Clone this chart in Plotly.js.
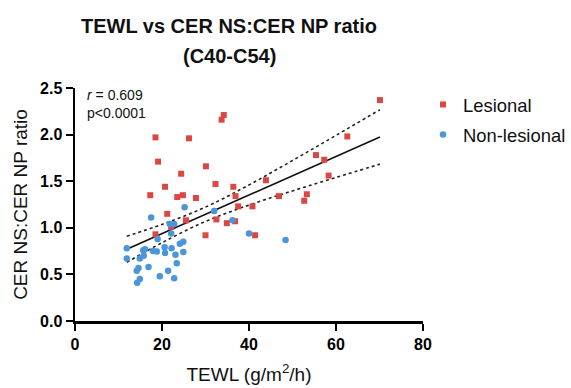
<!DOCTYPE html>
<html>
<head>
<meta charset="utf-8">
<script src="https://cdn.plot.ly/plotly-3.0.1.min.js"></script>
<style>html,body{margin:0;padding:0;background:#fff;}#chart{width:571px;height:388px;}</style>
</head>
<body>
<div id="chart"></div>
<script>
// Lesional (red squares)
const lesionalX = [70.1, 62.6, 34.2, 33.7, 18.5, 26.2, 19.1, 30.1, 24.4, 20.7, 32.3, 36.4, 17.3, 23.5, 24.8, 27.8, 36.9, 37.5, 55.4, 57.3, 43.9, 58.3, 46.9, 53.3, 52.7, 40.8, 41.4, 32.5, 34.9, 36.8, 30.0, 21.2, 25.5, 22.1, 18.5];
const lesionalY = [2.37, 1.98, 2.21, 2.16, 1.97, 1.96, 1.71, 1.66, 1.58, 1.44, 1.47, 1.44, 1.35, 1.33, 1.35, 1.32, 1.34, 1.23, 1.78, 1.73, 1.51, 1.56, 1.34, 1.36, 1.29, 1.23, 0.92, 1.09, 1.05, 1.07, 0.92, 1.15, 1.08, 1.01, 0.93];
// Non-lesional (blue circles)
const nonLesionalX = [25.2, 17.5, 32.0, 21.8, 22.8, 22.1, 36.2, 40.0, 48.4, 19.0, 24.9, 24.1, 11.9, 16.1, 15.7, 17.9, 18.8, 20.6, 22.2, 20.7, 24.9, 23.1, 11.9, 14.9, 15.8, 23.4, 14.6, 14.2, 16.9, 21.4, 19.5, 22.8, 14.9, 14.3];
const nonLesionalY = [1.22, 1.11, 1.18, 1.04, 1.04, 0.94, 1.08, 0.94, 0.87, 0.88, 0.85, 0.83, 0.78, 0.77, 0.76, 0.75, 0.745, 0.79, 0.78, 0.73, 0.74, 0.71, 0.67, 0.67, 0.70, 0.62, 0.57, 0.54, 0.58, 0.54, 0.48, 0.46, 0.45, 0.41];
// Regression line and 95% confidence band
const fitX = [11.9, 70.1];
const fitY = [0.77, 1.975];
const bandX = [11.9, 20, 30, 40, 50, 60, 70.1];
const bandUpper = [0.91, 1.036, 1.222, 1.46, 1.722, 1.992, 2.267];
const bandLower = [0.63, 0.84, 1.068, 1.244, 1.396, 1.54, 1.683];
const xTicks = [0, 20, 40, 60, 80];
const yTicks = [0.0, 0.5, 1.0, 1.5, 2.0, 2.5];
const yTickText = ['0.0', '0.5', '1.0', '1.5', '2.0', '2.5'];

const FONT = 'Liberation Sans, Arial, Helvetica, sans-serif';

const traces = [
  {x: bandX, y: bandUpper, mode: 'lines', line: {color: '#222', width: 1.6, dash: 'dot', shape: 'spline'}, showlegend: false, hoverinfo: 'skip'},
  {x: bandX, y: bandLower, mode: 'lines', line: {color: '#222', width: 1.6, dash: 'dot', shape: 'spline'}, showlegend: false, hoverinfo: 'skip'},
  {x: fitX, y: fitY, mode: 'lines', line: {color: '#111', width: 1.6}, showlegend: false, hoverinfo: 'skip'},
  {x: lesionalX, y: lesionalY, mode: 'markers', name: 'Lesional', legendgroup: 'a',
   marker: {symbol: 'square', size: 6, color: '#dc4744'}},
  {x: nonLesionalX, y: nonLesionalY, mode: 'markers', name: 'Non-lesional', legendgroup: 'b',
   marker: {symbol: 'circle', size: 6.5, color: '#4a95db'}}
];

const layout = {
  width: 571, height: 388,
  paper_bgcolor: '#fff', plot_bgcolor: '#fff',
  margin: {l: 75, r: 148, t: 88, b: 67},
  font: {family: FONT, color: '#000'},
  title: {text: 'TEWL vs CER NS:CER NP ratio', font: {family: FONT, size: 20, weight: 'bold', color: '#111'},
          x: 0.401, xref: 'container', xanchor: 'center', y: 1 - 26/388, yref: 'container', yanchor: 'middle'},
  xaxis: {range: [0, 80], tickvals: xTicks, ticks: 'outside', ticklen: 7, tickwidth: 2.2, tickcolor: '#000',
          showline: true, linewidth: 2.5, linecolor: '#000', showgrid: false, zeroline: false, automargin: false,
          tickfont: {family: FONT, size: 16, weight: 'bold', color: '#000'},
          title: {text: 'TEWL (g/m<sup>2</sup>/h)', font: {family: FONT, size: 19, color: '#111'}, standoff: 16}},
  yaxis: {range: [0, 2.5], tickvals: yTicks, ticktext: yTickText, ticks: 'outside', ticklen: 7, tickwidth: 2.2, tickcolor: '#000',
          showline: true, linewidth: 2.5, linecolor: '#000', showgrid: false, zeroline: false, automargin: false,
          tickfont: {family: FONT, size: 16, weight: 'bold', color: '#000'},
          title: {text: 'CER NS:CER NP ratio', font: {family: FONT, size: 19, color: '#111'}, standoff: 8}},
  legend: {xref: 'container', yref: 'container', x: 423 / 571, xanchor: 'left', y: 1 - 86 / 388, yanchor: 'top',
           font: {family: FONT, size: 18.4, color: '#111'},
           tracegroupgap: 3, bgcolor: 'rgba(0,0,0,0)'},
  annotations: [
    {text: '(C40-C54)', xref: 'paper', yref: 'paper', x: (229 - 75) / 348, y: (321 - 56) / 233, xanchor: 'center', yanchor: 'middle',
     showarrow: false, font: {family: FONT, size: 20, weight: 'bold', color: '#111'}},
    {text: '<i>r</i> = 0.609<br>p&lt;0.0001', xref: 'paper', yref: 'paper', x: (85 - 75) / 348, y: (321 - 85) / 233,
     xanchor: 'left', yanchor: 'top', align: 'left', showarrow: false, font: {family: FONT, size: 14, color: '#111'}}
  ]
};

Plotly.newPlot('chart', traces, layout, {staticPlot: true, displayModeBar: false});
</script>
</body>
</html>
